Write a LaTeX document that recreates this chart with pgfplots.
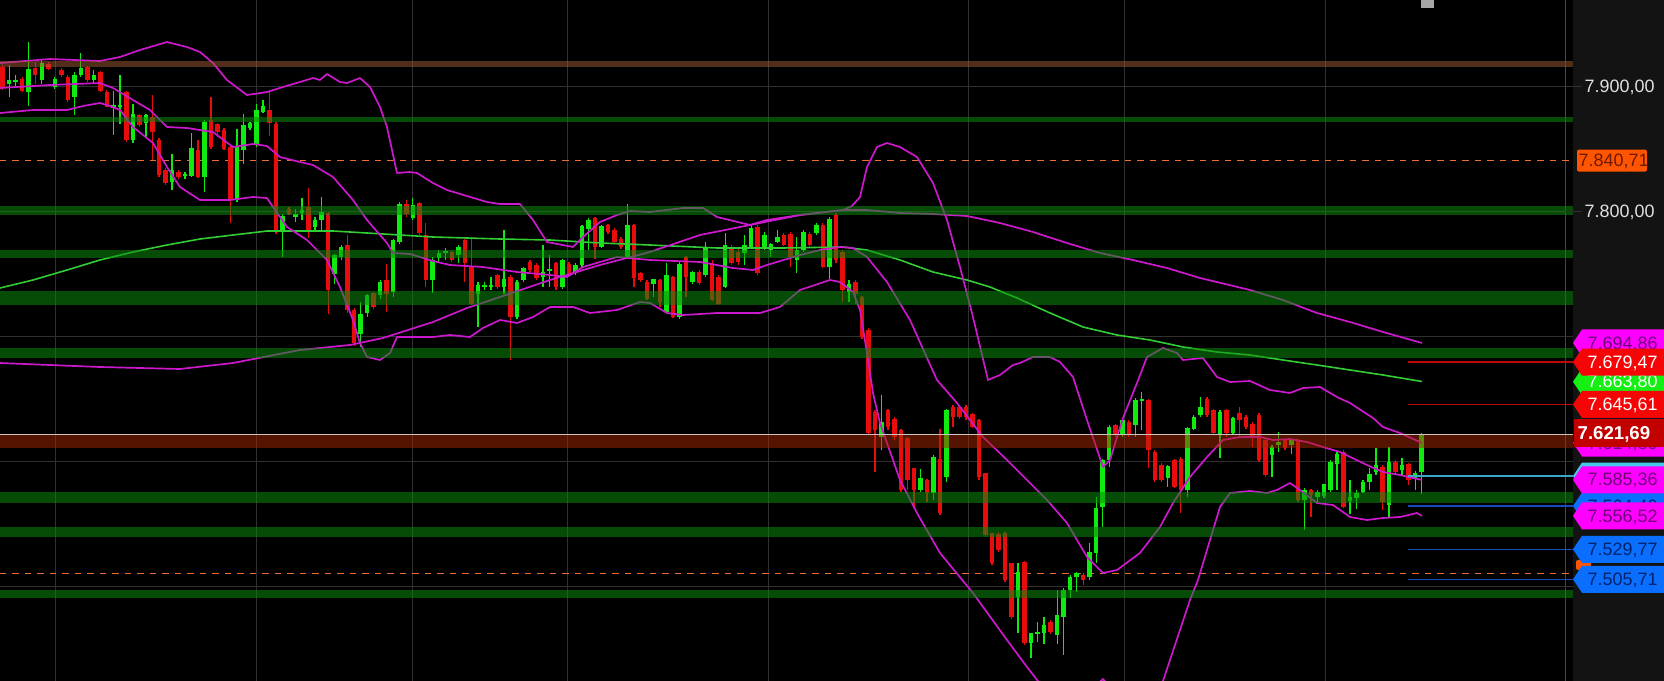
\documentclass[border=0pt]{standalone}
\usepackage{pgfplots}
\pgfplotsset{compat=1.18}
\usepackage{pgfplotstable}
\usepackage{fontspec}
\setmainfont{Liberation Sans}

\definecolor{panel}{RGB}{19,19,19}
\definecolor{gridc}{RGB}{48,48,48}
\definecolor{sepc}{RGB}{70,70,70}
\definecolor{upc}{RGB}{15,235,15}
\definecolor{dnc}{RGB}{232,12,12}
\definecolor{magc}{RGB}{205,25,205}
\definecolor{mac}{RGB}{50,205,50}
\definecolor{bandg}{RGB}{12,140,12}
\definecolor{bandb1}{RGB}{165,90,50}
\definecolor{bandb2}{RGB}{170,40,0}
\definecolor{dashc}{RGB}{235,110,45}
\definecolor{tagmag}{RGB}{255,0,255}
\definecolor{tagmagtxt}{RGB}{110,0,120}
\definecolor{tagred}{RGB}{245,5,5}
\definecolor{taggreen}{RGB}{20,240,20}
\definecolor{tagblue}{RGB}{10,110,255}
\definecolor{tagbluetxt}{RGB}{0,35,110}
\definecolor{tagcyan}{RGB}{70,200,235}
\definecolor{tagorange}{RGB}{255,85,0}
\definecolor{tagorangetxt}{RGB}{110,25,0}
\definecolor{curc}{RGB}{195,0,0}
\definecolor{curline}{RGB}{205,195,195}
\definecolor{redline}{RGB}{185,10,10}
\definecolor{blueline}{RGB}{25,75,190}
\definecolor{cyanline}{RGB}{60,165,200}
\definecolor{pricetxt}{RGB}{225,225,225}

\newcommand{\tagfont}{\fontsize{5.1pt}{6pt}\selectfont}
\newcommand{\ptag}[4]{%
  \fill[#2] (axis cs:1573,#1) -- ++(axis direction cs:9,10.8) -- ++(axis direction cs:82,0) -- ++(axis direction cs:0,-21.6) -- ++(axis direction cs:-82,0) -- cycle;
  \node[anchor=base west, inner sep=0pt, yshift=-0.62mm, text=#3, font=\tagfont] at (axis cs:1587,#1) {#4};
}

\pgfplotstableread{
i o h l c
0 7915.9 7917.2 7897.2 7899.9
1 7902.5 7917.2 7891.9 7905.2
2 7904.0 7909.2 7899.3 7905.5
3 7906.5 7907.9 7895.9 7896.7
4 7895.9 7935.9 7884.4 7914.5
5 7914.5 7919.9 7902.5 7909.2
6 7905.2 7922.5 7902.5 7918.5
7 7918.5 7919.5 7913.5 7914.5
8 7899.9 7907.9 7898.5 7906.0
9 7913.2 7914.5 7908.0 7909.2
10 7907.9 7909.2 7887.9 7889.2
11 7891.9 7911.9 7877.2 7909.2
12 7909.2 7927.3 7907.9 7914.5
13 7915.9 7916.4 7903.9 7905.2
14 7905.2 7913.2 7902.5 7909.2
15 7911.9 7912.7 7895.9 7896.7
16 7895.9 7897.2 7883.3 7883.9
17 7882.5 7896.7 7861.2 7885.2
18 7883.9 7909.2 7870.5 7885.5
19 7895.9 7896.7 7855.9 7857.2
20 7857.7 7886.0 7854.5 7878.5
21 7877.2 7878.5 7867.9 7869.2
22 7870.5 7878.5 7859.9 7877.2
23 7875.9 7893.2 7841.2 7863.9
24 7857.2 7858.5 7827.9 7829.2
25 7833.2 7834.5 7821.2 7822.5
26 7823.9 7846.5 7817.2 7833.2
27 7831.9 7833.0 7826.0 7827.9
28 7828.5 7831.9 7826.5 7830.0
29 7828.4 7862.5 7827.9 7850.5
30 7849.2 7857.2 7826.5 7827.9
31 7827.9 7873.2 7815.9 7871.9
32 7873.2 7891.9 7850.5 7851.9
33 7870.0 7871.1 7859.9 7863.9
34 7865.7 7866.5 7849.2 7850.5
35 7851.9 7853.2 7790.5 7809.2
36 7809.2 7866.5 7807.9 7851.9
37 7849.2 7878.5 7838.5 7869.2
38 7866.5 7871.9 7865.2 7870.5
39 7853.2 7886.5 7851.9 7881.2
40 7879.9 7889.2 7878.5 7884.4
41 7881.2 7895.9 7860.4 7870.5
42 7870.5 7871.9 7782.5 7783.9
43 7785.2 7798.5 7763.9 7796.4
44 7802.5 7804.0 7797.0 7798.5
45 7795.9 7802.5 7791.9 7798.5
46 7798.5 7810.5 7793.2 7801.2
47 7803.9 7818.5 7778.5 7785.2
48 7787.9 7795.9 7785.2 7793.2
49 7793.2 7811.9 7785.2 7799.9
50 7798.5 7799.9 7718.5 7737.2
51 7750.5 7766.5 7742.5 7765.2
52 7763.9 7773.2 7761.2 7771.9
53 7773.2 7781.2 7718.5 7721.2
54 7721.2 7722.5 7692.4 7694.5
55 7702.5 7727.9 7691.9 7718.5
56 7718.5 7734.5 7715.9 7733.2
57 7734.5 7736.0 7722.0 7723.9
58 7733.2 7745.2 7730.5 7743.9
59 7745.2 7758.5 7719.9 7734.5
60 7735.9 7778.5 7731.9 7777.2
61 7775.9 7807.9 7774.5 7806.5
62 7806.5 7809.2 7795.9 7798.5
63 7794.5 7810.5 7793.2 7805.2
64 7806.5 7807.9 7781.2 7782.5
65 7781.2 7790.5 7739.9 7745.2
66 7745.2 7763.9 7734.5 7761.2
67 7762.5 7769.2 7759.9 7767.0
68 7767.0 7770.5 7761.2 7768.5
69 7767.9 7769.0 7760.0 7761.2
70 7765.2 7773.2 7758.5 7771.9
71 7777.2 7778.5 7743.9 7758.5
72 7755.9 7779.9 7725.5 7726.5
73 7734.5 7743.9 7707.9 7741.2
74 7739.5 7743.9 7737.2 7741.0
75 7740.0 7747.9 7737.2 7741.5
76 7749.2 7750.5 7738.5 7739.9
77 7739.9 7785.2 7734.5 7746.5
78 7747.9 7749.0 7681.2 7715.9
79 7715.9 7745.0 7714.5 7743.9
80 7745.2 7755.9 7743.9 7754.5
81 7759.9 7761.2 7751.9 7753.2
82 7757.2 7758.5 7745.2 7746.5
83 7747.9 7773.2 7739.9 7751.9
84 7752.5 7765.2 7739.9 7754.0
85 7758.5 7759.5 7737.2 7739.9
86 7739.9 7762.5 7738.5 7761.2
87 7758.5 7760.0 7749.0 7750.5
88 7750.5 7758.5 7749.2 7757.2
89 7757.2 7789.2 7755.9 7788.4
90 7786.5 7794.5 7769.2 7793.7
91 7794.5 7795.9 7762.5 7771.9
92 7771.9 7789.2 7770.5 7788.4
93 7789.2 7790.5 7782.5 7783.9
94 7785.2 7786.5 7774.5 7775.9
95 7778.5 7780.0 7770.5 7771.9
96 7763.9 7806.5 7762.5 7789.2
97 7789.2 7790.0 7739.9 7746.5
98 7750.5 7752.0 7744.0 7745.2
99 7743.9 7745.0 7729.0 7730.5
100 7742.0 7746.5 7731.9 7745.7
101 7745.2 7746.0 7723.9 7727.9
102 7719.9 7758.5 7718.5 7749.2
103 7747.9 7748.5 7714.5 7715.9
104 7715.9 7759.9 7714.5 7758.5
105 7763.9 7764.5 7731.9 7747.9
106 7743.9 7752.7 7742.5 7751.9
107 7751.9 7753.0 7741.5 7742.5
108 7749.2 7775.9 7747.9 7771.9
109 7758.5 7761.2 7728.5 7729.2
110 7747.9 7749.0 7725.5 7726.5
111 7739.9 7782.5 7738.5 7773.2
112 7771.9 7773.0 7757.0 7758.5
113 7768.0 7772.0 7757.5 7760.0
114 7766.5 7781.2 7757.2 7773.2
115 7771.9 7789.2 7770.5 7787.3
116 7787.9 7789.0 7749.0 7750.5
117 7770.5 7783.9 7769.2 7781.2
118 7769.2 7775.1 7763.9 7774.0
119 7775.9 7785.2 7774.5 7779.9
120 7781.2 7782.5 7772.0 7773.2
121 7782.5 7783.9 7755.9 7763.9
122 7761.2 7779.3 7750.5 7769.2
123 7769.2 7785.2 7767.9 7783.9
124 7782.5 7783.5 7772.0 7773.2
125 7782.5 7790.5 7781.2 7789.2
126 7789.2 7790.5 7755.0 7755.9
127 7755.9 7795.9 7746.5 7794.5
128 7797.2 7798.5 7758.5 7761.2
129 7767.9 7769.2 7727.9 7737.2
130 7735.9 7745.2 7727.9 7742.5
131 7743.9 7745.2 7726.5 7734.5
132 7731.9 7732.5 7698.0 7699.9
133 7705.2 7706.5 7622.0 7622.8
134 7639.9 7641.0 7591.9 7625.2
135 7619.9 7653.2 7609.2 7631.9
136 7641.2 7642.0 7625.2 7627.9
137 7634.5 7635.9 7617.2 7619.9
138 7625.2 7626.0 7575.9 7577.2
139 7618.5 7619.5 7577.2 7585.2
140 7594.5 7595.0 7563.9 7577.2
141 7577.2 7594.5 7575.9 7586.5
142 7585.2 7586.0 7567.9 7574.5
143 7574.5 7605.2 7569.2 7603.9
144 7602.5 7626.5 7557.2 7558.5
145 7587.9 7642.5 7583.9 7641.2
146 7643.9 7645.2 7627.9 7635.9
147 7643.9 7645.0 7634.5 7635.9
148 7643.9 7645.2 7633.2 7635.9
149 7638.5 7639.0 7626.5 7627.9
150 7633.2 7634.5 7585.2 7587.9
151 7590.5 7591.0 7539.9 7541.2
152 7542.5 7543.0 7517.2 7518.5
153 7542.5 7543.9 7527.9 7529.2
154 7542.5 7543.9 7504.0 7505.2
155 7518.5 7519.0 7474.5 7475.9
156 7491.9 7518.5 7462.5 7511.9
157 7519.9 7520.5 7453.2 7454.5
158 7454.5 7463.0 7442.5 7462.5
159 7462.5 7471.9 7455.9 7463.9
160 7462.5 7475.9 7454.5 7469.2
161 7471.9 7473.0 7462.0 7463.9
162 7461.2 7497.2 7454.5 7477.2
163 7475.9 7498.5 7445.2 7497.2
164 7497.2 7509.2 7490.5 7507.9
165 7507.9 7511.9 7495.9 7510.5
166 7509.2 7510.5 7501.2 7505.2
167 7507.9 7534.5 7505.2 7527.9
168 7526.5 7571.9 7518.5 7562.5
169 7563.9 7602.5 7547.9 7601.2
170 7601.2 7629.2 7595.9 7627.9
171 7629.2 7630.5 7619.9 7621.2
172 7621.2 7634.5 7619.9 7633.2
173 7631.9 7633.0 7620.0 7621.2
174 7629.2 7650.5 7619.9 7649.2
175 7648.5 7655.9 7625.2 7650.5
176 7649.2 7650.0 7594.5 7609.2
177 7607.9 7609.2 7584.0 7585.2
178 7597.2 7598.5 7584.0 7585.2
179 7586.5 7597.2 7579.9 7596.4
180 7601.2 7602.0 7578.5 7579.9
181 7602.5 7603.9 7558.5 7577.2
182 7577.2 7627.9 7571.9 7626.5
183 7626.5 7637.2 7625.2 7635.9
184 7637.2 7651.9 7635.9 7643.9
185 7650.5 7651.9 7635.9 7637.2
186 7641.2 7642.0 7621.2 7622.5
187 7621.2 7641.2 7602.5 7639.9
188 7641.2 7642.5 7619.9 7622.5
189 7622.5 7635.9 7621.2 7634.5
190 7638.5 7643.9 7619.9 7633.2
191 7635.9 7637.0 7626.0 7627.9
192 7630.5 7631.9 7611.9 7619.9
193 7637.2 7638.5 7599.9 7601.2
194 7617.2 7618.5 7587.9 7589.2
195 7605.2 7613.2 7587.9 7611.9
196 7613.2 7623.9 7607.9 7615.9
197 7617.2 7618.0 7609.0 7610.5
198 7613.2 7617.7 7606.5 7617.2
199 7617.2 7618.0 7567.9 7569.2
200 7569.2 7578.5 7545.2 7577.2
201 7577.2 7578.0 7555.9 7573.2
202 7571.9 7577.2 7567.9 7575.9
203 7572.4 7582.5 7571.3 7582.0
204 7577.2 7601.2 7575.9 7599.9
205 7598.5 7607.9 7577.2 7606.5
206 7607.9 7609.2 7562.5 7563.9
207 7568.6 7585.2 7558.5 7571.9
208 7570.5 7577.2 7562.5 7574.5
209 7575.9 7585.2 7574.5 7583.9
210 7583.9 7594.5 7577.2 7590.5
211 7591.9 7610.5 7589.2 7597.2
212 7595.9 7597.2 7561.2 7567.9
213 7565.2 7611.9 7554.5 7599.9
214 7599.9 7601.2 7589.2 7591.9
215 7593.2 7602.5 7589.2 7597.2
216 7598.5 7599.1 7581.2 7585.2
217 7586.5 7592.7 7577.7 7590.5
218 7591.9 7623.1 7574.5 7621.7
}\candles

\begin{document}
\begin{tikzpicture}
\useasboundingbox (0,0) rectangle (166.4mm,68.1mm);
\fill[black] (0,0) rectangle (166.4mm,68.1mm);
\begin{axis}[at={(0,0)}, anchor=south west, scale only axis,
  width=166.4mm, height=68.1mm, xmin=0, xmax=1664, ymin=7424.4, ymax=7969.2,
  hide axis, clip=true]

% grid
\foreach \gx in {55,256,412,567,768,968,1124,1325}{
  \edef\tmp{\noexpand\draw[gridc, line width=0.1mm] (axis cs:\gx,7424.4) -- (axis cs:\gx,7969.2);}\tmp
}
\draw[sepc, line width=0.1mm] (axis cs:1565,7424.4) -- (axis cs:1565,7969.2);
\foreach \gy in {7500,7600,7700,7800,7900}{
  \edef\tmp{\noexpand\draw[gridc, line width=0.1mm] (axis cs:0,\gy) -- (axis cs:1582,\gy);}\tmp
}

% dashed levels
\addplot[dashc, line width=0.14mm, dash pattern=on 0.65mm off 0.6mm] coordinates {(0,7840.71) (1573,7840.71)};
\addplot[dashc, line width=0.14mm, dash pattern=on 0.65mm off 0.6mm] coordinates {(0,7510.5) (1573,7510.5)};

% candle wicks and bodies
\addplot[draw=none, mark=none, restrict expr to domain={\thisrow{c}-\thisrow{o}}{0:1000},
  error bars/.cd, y dir=both, y explicit, error mark=none,
  error bar style={draw=upc, line width=0.13mm}]
  table[x expr={2.7+6.509*\thisrow{i}}, y expr={(\thisrow{h}+\thisrow{l})/2}, y error expr={(\thisrow{h}-\thisrow{l})/2}] {\candles};
\addplot[draw=none, mark=none, restrict expr to domain={\thisrow{c}-\thisrow{o}}{0:1000},
  error bars/.cd, y dir=both, y explicit, error mark=none,
  error bar style={draw=upc, line width=0.45mm}]
  table[x expr={2.7+6.509*\thisrow{i}}, y expr={(\thisrow{o}+\thisrow{c})/2}, y error expr={(\thisrow{c}-\thisrow{o})/2}] {\candles};
\addplot[draw=none, mark=none, restrict expr to domain={\thisrow{c}-\thisrow{o}}{-1000:0},
  error bars/.cd, y dir=both, y explicit, error mark=none,
  error bar style={draw=dnc, line width=0.13mm}]
  table[x expr={2.7+6.509*\thisrow{i}}, y expr={(\thisrow{h}+\thisrow{l})/2}, y error expr={(\thisrow{h}-\thisrow{l})/2}] {\candles};
\addplot[draw=none, mark=none, restrict expr to domain={\thisrow{c}-\thisrow{o}}{-1000:0},
  error bars/.cd, y dir=both, y explicit, error mark=none,
  error bar style={draw=dnc, line width=0.45mm}]
  table[x expr={2.7+6.509*\thisrow{i}}, y expr={(\thisrow{o}+\thisrow{c})/2}, y error expr={(\thisrow{o}-\thisrow{c})/2}] {\candles};

% green moving average
\addplot[mac, line width=0.16mm, line join=round] coordinates {
(0,7738.8)(33,7745.2)(67,7753.2)(100,7761.2)(133,7767.6)(167,7773.2)(200,7778.0)(233,7781.2)(267,7784.4)(300,7784.4)(333,7784.4)(367,7782.8)(400,7781.2)(433,7779.6)(467,7778.8)(500,7778.0)(550,7777.2)(600,7774.8)(650,7773.2)(717,7770.8)(783,7770.8)(843,7771.6)(867,7769.2)(900,7761.2)(933,7751.6)(967,7745.2)(990,7739.6)(1017,7730.8)(1050,7718.8)(1083,7707.6)(1117,7701.2)(1150,7697.2)(1183,7691.6)(1217,7687.6)(1250,7685.2)(1283,7681.2)(1317,7677.2)(1350,7673.2)(1383,7669.2)(1422,7664.0)};

% slow magenta line
\addplot[magc, line width=0.17mm, line join=round] coordinates {
(0,7678.8)(100,7675.6)(180,7674.0)(233,7678.8)(300,7689.2)(350,7693.2)(383,7698.8)(433,7711.6)(467,7722.8)(500,7731.6)(550,7745.2)(600,7757.2)(650,7767.6)(700,7781.2)(750,7789.2)(800,7797.2)(843,7801.2)(867,7801.2)(900,7798.8)(933,7798.0)(967,7796.4)(1000,7790.8)(1033,7783.6)(1067,7774.8)(1100,7766.8)(1133,7761.2)(1167,7754.8)(1200,7746.8)(1250,7737.2)(1283,7729.2)(1317,7718.8)(1350,7711.6)(1383,7703.6)(1422,7694.8)};

% fast band: upper
\addplot[magc, line width=0.17mm, line join=round] coordinates {
(0,7918.8)(50,7922.0)(100,7920.4)(120,7923.6)(140,7929.2)(167,7935.6)(187,7931.6)(200,7927.6)(213,7918.8)(227,7905.2)(247,7893.2)(267,7895.6)(283,7899.6)(300,7903.6)(313,7906.8)(320,7905.2)(327,7910.0)(340,7903.6)(347,7902.8)(360,7906.8)(370,7899.6)(380,7883.6)(387,7867.6)(397,7830.8)(410,7831.6)(417,7830.8)(433,7822.8)(447,7817.2)(467,7812.4)(487,7807.6)(500,7806.0)(520,7806.0)(533,7793.2)(547,7775.6)(573,7771.6)(583,7779.6)(600,7791.6)(617,7797.2)(630,7800.4)(650,7799.6)(683,7802.8)(703,7802.8)(717,7795.6)(750,7789.2)(767,7793.2)(800,7797.2)(843,7801.2)(852,7804.4)(860,7811.6)(867,7835.6)(877,7851.6)(887,7854.8)(900,7851.6)(917,7843.6)(933,7822.8)(947,7793.2)(960,7755.6)(973,7715.6)(988,7665.2)(1000,7669.2)(1013,7677.2)(1020,7678.8)(1033,7683.6)(1050,7683.6)(1060,7679.6)(1073,7667.6)(1087,7633.2)(1103,7595.6)(1110,7601.2)(1123,7634.8)(1137,7662.8)(1147,7683.6)(1163,7690.8)(1177,7686.8)(1183,7681.2)(1203,7682.8)(1217,7667.6)(1230,7663.6)(1250,7664.4)(1270,7657.2)(1290,7654.8)(1303,7658.8)(1320,7659.6)(1337,7651.6)(1350,7646.8)(1373,7634.8)(1383,7627.6)(1400,7622.8)(1422,7614.8)};

% fast band: middle
\addplot[magc, line width=0.17mm, line join=round] coordinates {
(0,7898.8)(50,7901.2)(100,7902.8)(113,7898.8)(133,7889.2)(150,7881.2)(167,7867.6)(187,7866.8)(213,7863.6)(233,7851.6)(253,7854.0)(267,7852.4)(280,7843.6)(300,7839.6)(313,7837.2)(333,7827.6)(353,7809.2)(367,7793.2)(387,7774.8)(393,7766.8)(410,7766.0)(433,7760.4)(450,7757.2)(483,7755.6)(517,7751.6)(550,7749.2)(567,7747.6)(583,7755.6)(617,7763.6)(650,7761.2)(700,7759.6)(733,7754.8)(753,7753.2)(767,7757.2)(800,7765.2)(820,7769.2)(840,7771.6)(853,7770.8)(867,7763.6)(887,7743.6)(910,7713.2)(937,7665.2)(957,7646.8)(983,7619.6)(1007,7601.2)(1027,7585.2)(1047,7569.2)(1067,7550.8)(1087,7523.6)(1103,7510.8)(1117,7513.2)(1140,7526.8)(1160,7547.6)(1173,7566.8)(1190,7587.6)(1207,7603.6)(1223,7617.2)(1240,7619.6)(1260,7619.6)(1273,7617.2)(1290,7618.0)(1307,7615.6)(1323,7611.6)(1340,7607.6)(1367,7597.2)(1383,7591.6)(1400,7589.2)(1422,7585.2)};

% fast band: lower
\addplot[magc, line width=0.17mm, line join=round] coordinates {
(0,7878.8)(33,7881.2)(67,7881.2)(83,7884.4)(100,7886.8)(110,7884.4)(120,7881.2)(133,7867.6)(153,7854.8)(167,7835.6)(180,7819.6)(200,7809.2)(230,7809.2)(253,7811.6)(267,7810.8)(273,7803.6)(287,7787.6)(307,7777.2)(327,7761.2)(340,7739.6)(353,7713.2)(360,7694.8)(367,7683.6)(380,7681.2)(390,7686.8)(397,7699.6)(417,7699.6)(433,7699.6)(450,7701.2)(470,7699.6)(483,7706.8)(500,7713.2)(517,7710.8)(533,7715.6)(550,7723.6)(573,7723.6)(590,7718.8)(617,7721.2)(640,7727.6)(650,7726.8)(667,7718.8)(683,7717.2)(717,7718.8)(760,7718.8)(780,7723.6)(800,7737.2)(830,7745.2)(840,7743.6)(853,7735.6)(860,7721.2)(867,7686.8)(873,7654.8)(880,7630.8)(900,7585.2)(917,7558.8)(940,7526.8)(973,7494.8)(1007,7457.2)(1027,7435.6)(1045,7417.2)(1075,7405)(1103,7426)(1130,7400)(1160,7417.2)(1175,7453.2)(1190,7489.2)(1198,7505.2)(1210,7537.2)(1220,7563.6)(1230,7574.8)(1250,7576.4)(1267,7574.8)(1277,7577.2)(1290,7582.8)(1300,7577.2)(1317,7566.8)(1333,7565.2)(1350,7555.6)(1367,7553.2)(1383,7554.8)(1400,7555.6)(1417,7558.8)(1422,7556.4)};

% translucent zones
\addplot[draw=none, fill=bandb1, fill opacity=0.5] coordinates {(0,7920.4)(1573,7920.4)(1573,7915.6)(0,7915.6)} -- cycle;
\addplot[draw=none, fill=bandg, fill opacity=0.55] coordinates {(0,7875.6)(1573,7875.6)(1573,7871.6)(0,7871.6)} -- cycle;
\addplot[draw=none, fill=bandg, fill opacity=0.55] coordinates {(0,7804.4)(1573,7804.4)(1573,7797.2)(0,7797.2)} -- cycle;
\addplot[draw=none, fill=bandg, fill opacity=0.55] coordinates {(0,7769.2)(1573,7769.2)(1573,7762.8)(0,7762.8)} -- cycle;
\addplot[draw=none, fill=bandg, fill opacity=0.55] coordinates {(0,7736.4)(1573,7736.4)(1573,7725.2)(0,7725.2)} -- cycle;
\addplot[draw=none, fill=bandg, fill opacity=0.55] coordinates {(0,7690.8)(1573,7690.8)(1573,7682.8)(0,7682.8)} -- cycle;
\addplot[draw=none, fill=bandb2, fill opacity=0.5] coordinates {(0,7621.0)(1573,7621.0)(1573,7610.8)(0,7610.8)} -- cycle;
\addplot[draw=none, fill=bandg, fill opacity=0.55] coordinates {(0,7575.6)(1573,7575.6)(1573,7566.8)(0,7566.8)} -- cycle;
\addplot[draw=none, fill=bandg, fill opacity=0.55] coordinates {(0,7547.6)(1573,7547.6)(1573,7539.6)(0,7539.6)} -- cycle;
\addplot[draw=none, fill=bandg, fill opacity=0.55] coordinates {(0,7497.2)(1573,7497.2)(1573,7490.8)(0,7490.8)} -- cycle;

% current price line and right-side levels
\addplot[curline, line width=0.13mm] coordinates {(0,7621.69)(1573,7621.69)};
\addplot[redline, line width=0.15mm] coordinates {(1408,7679.47)(1573,7679.47)};
\addplot[redline, line width=0.15mm] coordinates {(1408,7645.61)(1573,7645.61)};
\addplot[cyanline, line width=0.15mm] coordinates {(1408,7588.4)(1573,7588.4)};
\addplot[blueline, line width=0.15mm] coordinates {(1408,7564.4)(1573,7564.4)};
\addplot[blueline, line width=0.15mm] coordinates {(1408,7529.77)(1573,7529.77)};
\addplot[blueline, line width=0.15mm] coordinates {(1408,7505.71)(1573,7505.71)};

% right price panel
\fill[panel] (axis cs:1573,7424.4) rectangle (axis cs:1664,7969.2);
\draw[gridc, line width=0.1mm] (axis cs:1565,7900) -- (axis cs:1582,7900);
\draw[gridc, line width=0.1mm] (axis cs:1565,7800) -- (axis cs:1582,7800);
\node[anchor=base west, inner sep=0pt, yshift=-0.62mm, text=pricetxt, font=\tagfont] at (axis cs:1584,7900) {7.900,00};
\node[anchor=base west, inner sep=0pt, yshift=-0.62mm, text=pricetxt, font=\tagfont] at (axis cs:1584,7800) {7.800,00};

% small marker at top
\fill[gray!70] (axis cs:1421,7969.2) rectangle (axis cs:1434,7962.6);

% orange level tag
\fill[tagorange, rounded corners=0.2mm] (axis cs:1577,7831.9) rectangle (axis cs:1647,7849.5);
\node[anchor=base west, inner sep=0pt, yshift=-0.62mm, text=tagorangetxt, font=\tagfont] at (axis cs:1578,7840.71) {7.840,71};

% price tags
\ptag{7694.86}{tagmag}{tagmagtxt}{7.694,86}
\ptag{7663.80}{taggreen}{white}{7.663,80}
\ptag{7679.47}{tagred}{white}{7.679,47}
\ptag{7645.61}{tagred}{white}{7.645,61}
\ptag{7614.80}{tagmag}{tagmagtxt}{7.614,80}
\ptag{7588.40}{tagcyan}{black}{7.588,40}
\ptag{7564.40}{tagblue}{tagbluetxt}{7.564,40}
\fill[tagorange, rounded corners=0.2mm] (axis cs:1576,7513.2) rectangle (axis cs:1591,7521.2);
\ptag{7585.36}{tagmag}{tagmagtxt}{7.585,36}
\ptag{7556.52}{tagmag}{tagmagtxt}{7.556,52}
\ptag{7529.77}{tagblue}{tagbluetxt}{7.529,77}
\ptag{7505.71}{tagblue}{tagbluetxt}{7.505,71}
\fill[curc] (axis cs:1574,7611.8) rectangle (axis cs:1664,7634.2);
\node[anchor=base west, inner sep=0pt, yshift=-0.65mm, text=white, font=\fontsize{5.3pt}{6pt}\selectfont\bfseries] at (axis cs:1577,7623.0) {7.621,69};

\end{axis}
\end{tikzpicture}
\end{document}
